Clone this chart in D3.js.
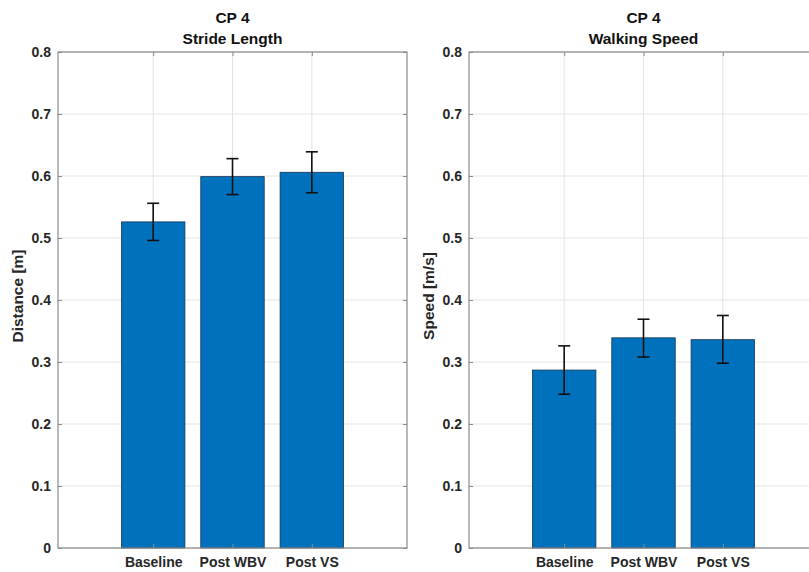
<!DOCTYPE html>
<html><head><meta charset="utf-8">
<script src="https://cdn.jsdelivr.net/npm/d3@7"></script>
<style>body{margin:0;background:#fff;}svg{display:block;font-family:"Liberation Sans",Arial,sans-serif;}</style>
</head><body><svg id="c" width="809" height="572"></svg>
<script>
const categories = ["Baseline", "Post WBV", "Post VS"];
const yTicks = [0, 0.1, 0.2, 0.3, 0.4, 0.5, 0.6, 0.7, 0.8];
const strideMean = [0.526, 0.599, 0.606];
const strideLow = [0.496, 0.570, 0.573];
const strideHigh = [0.556, 0.628, 0.639];
const speedMean = [0.287, 0.339, 0.336];
const speedLow = [0.248, 0.308, 0.298];
const speedHigh = [0.326, 0.369, 0.375];

const panels = [
  {title: ["CP 4", "Stride Length"], ylabel: "Distance [m]", mean: strideMean, lo: strideLow, hi: strideHigh, left: 58, right: 407},
  {title: ["CP 4", "Walking Speed"], ylabel: "Speed [m/s]", mean: speedMean, lo: speedLow, hi: speedHigh, left: 469, right: 818}
];
const plotTop = 52, plotBottom = 548;
const svg = d3.select("#c");
const y = d3.scaleLinear().domain([0, 0.8]).range([plotBottom, plotTop]);

panels.forEach(p => {
  const x = d3.scaleLinear().domain([-0.2, 4.2]).range([p.left, p.right]);
  const pos = i => x(i + 1);
  const g = svg.append("g");
  // grid
  g.selectAll(".gy").data(yTicks).join("line")
    .attr("x1", p.left).attr("x2", p.right).attr("y1", d => y(d)).attr("y2", d => y(d))
    .attr("stroke", "#e3e3e3").attr("stroke-width", 1);
  g.selectAll(".gx").data(categories).join("line")
    .attr("x1", (d, i) => pos(i)).attr("x2", (d, i) => pos(i)).attr("y1", plotTop).attr("y2", plotBottom)
    .attr("stroke", "#e3e3e3").attr("stroke-width", 1);
  // bars
  const bw = (x(1) - x(0)) * 0.8;
  g.selectAll(".bar").data(p.mean).join("rect")
    .attr("x", (d, i) => pos(i) - bw / 2).attr("width", bw)
    .attr("y", d => y(d)).attr("height", d => y(0) - y(d))
    .attr("fill", "#0072BD").attr("stroke", "#1a3550").attr("stroke-width", 0.8);
  // error bars
  const cap = 6;
  p.mean.forEach((m, i) => {
    const cx = pos(i);
    g.append("line").attr("x1", cx).attr("x2", cx).attr("y1", y(p.hi[i])).attr("y2", y(p.lo[i])).attr("stroke", "#111").attr("stroke-width", 1.6);
    [p.hi[i], p.lo[i]].forEach(v => g.append("line").attr("x1", cx - cap).attr("x2", cx + cap).attr("y1", y(v)).attr("y2", y(v)).attr("stroke", "#111").attr("stroke-width", 1.6));
  });
  // box
  g.append("rect").attr("x", p.left).attr("y", plotTop).attr("width", p.right - p.left).attr("height", plotBottom - plotTop)
    .attr("fill", "none").attr("stroke", "#8a8a8a").attr("stroke-width", 1.2);
  // axes
  const yAxis = d3.axisLeft(y).tickValues(yTicks).tickFormat(d => d === 0 ? "0" : d3.format(".1f")(d)).tickSizeInner(-4).tickSizeOuter(0).tickPadding(7);
  const ya = g.append("g").attr("transform", `translate(${p.left},0)`).call(yAxis);
  ya.select(".domain").remove();
  ya.selectAll("line").attr("stroke", "#8a8a8a");
  ya.selectAll("text").attr("font-size", 14).attr("font-weight", "bold").attr("fill", "#262626");
  const yR = d3.axisRight(y).tickValues(yTicks).tickFormat("").tickSizeInner(-4).tickSizeOuter(0);
  const yr = g.append("g").attr("transform", `translate(${p.right},0)`).call(yR);
  yr.select(".domain").remove(); yr.selectAll("line").attr("stroke", "#8a8a8a");
  const xb = d3.axisBottom(x).tickValues([1, 2, 3]).tickFormat(d => categories[d - 1]).tickSizeInner(-4).tickSizeOuter(0).tickPadding(9);
  const xa = g.append("g").attr("transform", `translate(0,${plotBottom})`).call(xb);
  xa.select(".domain").remove(); xa.selectAll("line").attr("stroke", "#8a8a8a");
  xa.selectAll("text").attr("font-size", 14).attr("font-weight", "bold").attr("fill", "#262626");
  const xt = d3.axisTop(x).tickValues([1, 2, 3]).tickFormat("").tickSizeInner(-4).tickSizeOuter(0);
  const xta = g.append("g").attr("transform", `translate(0,${plotTop})`).call(xt);
  xta.select(".domain").remove(); xta.selectAll("line").attr("stroke", "#8a8a8a");
  // titles
  const cx = x(2);
  g.append("text").attr("x", cx).attr("y", 23).attr("text-anchor", "middle").attr("font-size", 15.5).attr("font-weight", "bold").attr("fill", "#111").text(p.title[0]);
  g.append("text").attr("x", cx).attr("y", 44).attr("text-anchor", "middle").attr("font-size", 15.5).attr("font-weight", "bold").attr("fill", "#111").text(p.title[1]);
  g.append("text").attr("transform", `translate(${p.left - 35},${(plotTop + plotBottom) / 2 - 4}) rotate(-90)`)
    .attr("text-anchor", "middle").attr("font-size", 15.5).attr("font-weight", "bold").attr("fill", "#262626").text(p.ylabel);
});
</script></body></html>
